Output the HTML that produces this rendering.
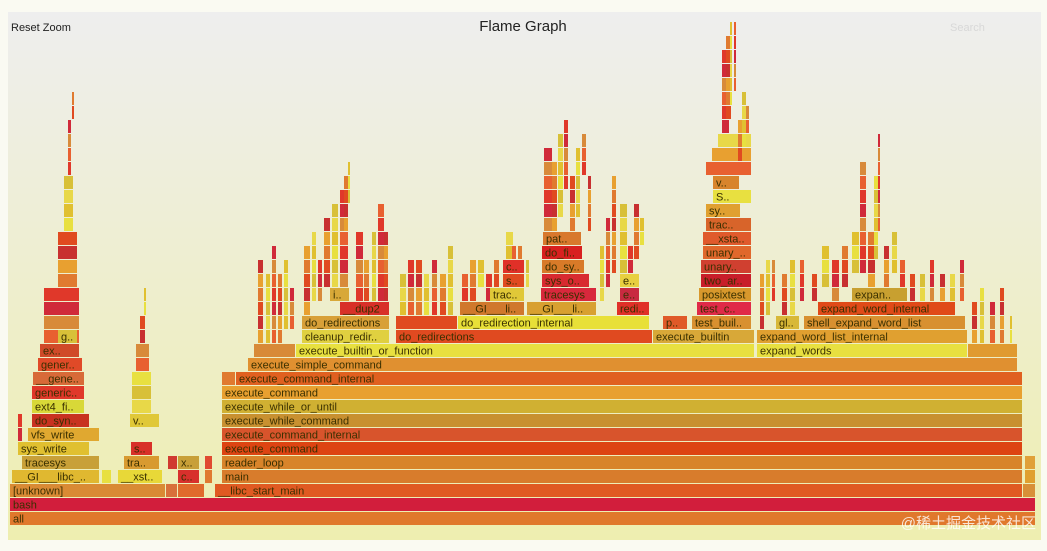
<!DOCTYPE html>
<html><head><meta charset="utf-8">
<style>
html,body{margin:0;padding:0;background:#fff;}
#wrap{position:relative;width:1047px;height:551px;overflow:hidden;background:#fafaf2;}
svg{position:absolute;left:0;top:0;}
text{font-family:"Liberation Sans",sans-serif;}
</style></head>
<body>
<div id="wrap">
<svg id="fg" width="1047" height="551">
<defs><linearGradient id="bg" x1="0" y1="0" x2="0" y2="1"><stop offset="0" stop-color="#eeeeee"/><stop offset="1" stop-color="#eeeeb0"/></linearGradient></defs>
<rect x="8" y="12" width="1033" height="528" fill="url(#bg)"/>
<text x="523" y="31" text-anchor="middle" font-size="15" fill="#222">Flame Graph</text>
<text x="11" y="31" font-size="11" fill="#222">Reset Zoom</text>
<text x="950" y="31" font-size="11" fill="#d8d8d8">Search</text>
<g id="frames"></g>
<text x="1036" y="528" text-anchor="end" font-size="15" fill="#ffffff" fill-opacity="0.8" style="font-family:'Liberation Sans','Noto Sans CJK SC',sans-serif">@稀土掘金技术社区</text>
</svg>
</div>
<script>
// labeled frames: name, start x, width, depth, color
const names = ["all","bash","[unknown]","","","__libc_start_main","","__GI___libc_..","","__xst..","c..","","main","","tracesys","tra..","","x..","","reader_loop","","sys_write","s..","execute_command","vfs_write","","execute_command_internal","do_syn..","v..","execute_while_command","ext4_fi..","execute_while_or_until","generic..","execute_command","__gene..","","execute_command_internal","gener..","execute_simple_command","ex..","","execute_builtin_or_function","expand_words","","g..","cleanup_redir..","do_redirections","execute_builtin","expand_word_list_internal","do_redirections","","do_redirection_internal","p..","test_buil..","gl..","shell_expand_word_list","__dup2","__GI___li..","__GI___li..","redi..","test_c..","expand_word_internal","i..","trac..","tracesys","e..","posixtest","expan..","s..","sys_o..","e..","two_ar..","c..","do_sy..","unary..","do_fi..","unary_..","pat..","__xsta..","trac..","sy..","S..","v.."];
const starts = [10,10,10,166,178,215,1023,12,102,118,178,205,222,1025,22,124,168,178,205,222,1025,18,131,222,28,222,222,32,130,222,32,222,32,222,33,222,236,38,248,40,254,296,757,968,58,302,396,653,757,302,396,458,663,692,776,804,340,460,527,617,697,818,330,490,541,620,699,852,503,542,620,701,503,542,701,542,703,543,703,706,706,713,713];
const widths = [1026,1026,156,12,27,808,13,88,10,45,22,8,801,11,78,36,10,22,8,801,11,72,22,801,72,801,801,58,30,801,53,801,53,801,52,14,787,45,770,40,42,459,211,50,20,88,257,102,211,88,62,192,25,60,24,162,50,65,70,33,55,138,20,35,56,20,53,56,22,48,20,51,22,43,51,41,49,39,49,46,35,39,27];
const depths = [0,1,2,2,2,2,2,3,3,3,3,3,3,3,4,4,4,4,4,4,4,5,5,5,6,6,6,7,7,7,8,8,9,9,10,10,10,11,11,12,12,12,12,12,13,13,13,13,13,14,14,14,14,14,14,14,15,15,15,15,15,15,16,16,16,16,16,16,17,17,17,17,18,18,18,19,19,20,20,21,22,23,24];
const colors = ["#e0782c","#d21e3c","#d98a34","#d8703a","#e06a2c","#e05a22","#d89038","#e0b830","#e8e040","#e8d838","#d8302c","#e07a30","#d87c2c","#e0a030","#c8a038","#d89a30","#d03a30","#c8a038","#e04a30","#d8842a","#e0a038","#e0c030","#d83028","#dd4412","#e0a830","#e06028","#d8542c","#c83220","#e0c838","#c89030","#d8d838","#d0b032","#e0382a","#e8a030","#d86a38","#e07a30","#e06020","#e04a28","#e09030","#d04a28","#d88a38","#e8e040","#e8e040","#e09a30","#d8c038","#e0d040","#e04a20","#d8a838","#e0a030","#d8a038","#e04a20","#e8e038","#e05a28","#d89030","#d8b838","#d89030","#d83028","#d0782c","#d8a030","#e03028","#e02a48","#e04a18","#d8a838","#e0c838","#d8283c","#c82a40","#d8982c","#c8a030","#e04a20","#d82a30","#e8d040","#c81e2a","#e03028","#d87a28","#d04030","#d82020","#e0682c","#d8782c","#e05a2c","#d8642a","#e0a030","#e8e040","#d8842c"];
// unlabeled spike towers: start x, width, from depth, to depth
const towerX = [44,58,64,68,72,132,136,140,144,18,258,266,272,278,284,290,304,312,318,324,332,340,344,348,356,364,372,378,384,400,408,416,424,432,440,448,462,470,478,486,494,506,512,518,526,544,552,558,564,570,576,582,588,600,606,612,620,628,634,640,706,712,718,722,726,730,734,738,742,746,760,766,772,782,790,800,812,822,832,842,852,860,868,874,878,884,892,900,910,920,930,940,950,960,972,980,990,1000,1010];
const towerW = [36,20,10,4,3,20,14,6,3,5,6,5,5,5,5,5,7,5,5,7,7,9,5,3,8,6,5,7,5,7,7,7,6,6,7,6,7,7,7,7,6,8,5,5,4,9,6,6,5,6,5,5,4,5,5,5,8,6,6,5,46,40,34,8,6,3,3,5,5,4,5,5,4,6,6,5,6,8,8,7,8,7,8,5,3,6,6,6,6,6,5,6,6,5,6,5,6,5,3];
const towerFrom = [13,17,21,25,29,8,11,13,15,5,12,12,13,13,14,14,15,16,16,17,17,17,21,23,15,15,16,15,16,14,14,15,14,15,14,15,16,16,17,16,17,19,17,18,17,21,21,22,24,21,22,25,21,16,17,18,18,17,19,20,25,26,27,28,29,30,31,26,27,28,14,15,16,15,15,16,16,17,16,17,18,18,17,19,21,17,18,16,16,16,15,16,15,16,13,13,13,13,13];
const towerTo = [16,20,24,28,30,10,12,14,16,7,18,17,19,17,18,16,19,20,18,21,22,23,24,25,20,18,20,22,20,17,18,18,17,18,17,19,17,18,18,17,18,20,19,19,18,26,25,27,28,24,26,27,24,19,21,24,22,19,22,21,25,26,27,33,34,35,35,28,30,29,17,18,18,17,18,18,17,19,18,19,20,25,20,24,27,19,20,18,17,17,18,17,17,18,15,16,15,16,14];
const palette = ["#e0382a","#e8a030","#d8c038","#e86030","#c83030","#e8e040","#d88a3a","#e04a20","#e0c030","#d02a3a","#e07a30","#e8d848"];
const g = document.getElementById('frames');
const NS = "http://www.w3.org/2000/svg";
function yOf(d){ return 512 - 14*d; }
function addRect(x,w,d,c){
  const r = document.createElementNS(NS,'rect');
  r.setAttribute('x',x); r.setAttribute('y',yOf(d)); r.setAttribute('width',Math.max(1,w-1)); r.setAttribute('height',13);
  r.setAttribute('fill',c);
  g.appendChild(r); return r;
}
for (let t=0;t<towerX.length;t++){
  for (let d=towerFrom[t]; d<=towerTo[t]; d++){
    const r = addRect(towerX[t], towerW[t], d, palette[(t*7+d*3)%palette.length]);
    
    
  }
}
for (let i=0;i<names.length;i++){
  const r = addRect(starts[i], widths[i], depths[i], colors[i]);
  
  
  if (names[i]) {
    const tx = document.createElementNS(NS,'text');
    tx.setAttribute('x', starts[i]+3); tx.setAttribute('y', yOf(depths[i])+10.5);
    tx.setAttribute('font-size','11'); tx.setAttribute('fill','#3a3000');
    tx.textContent = names[i];
    
    
    g.appendChild(tx);
  }
}
</script>
</body></html>
